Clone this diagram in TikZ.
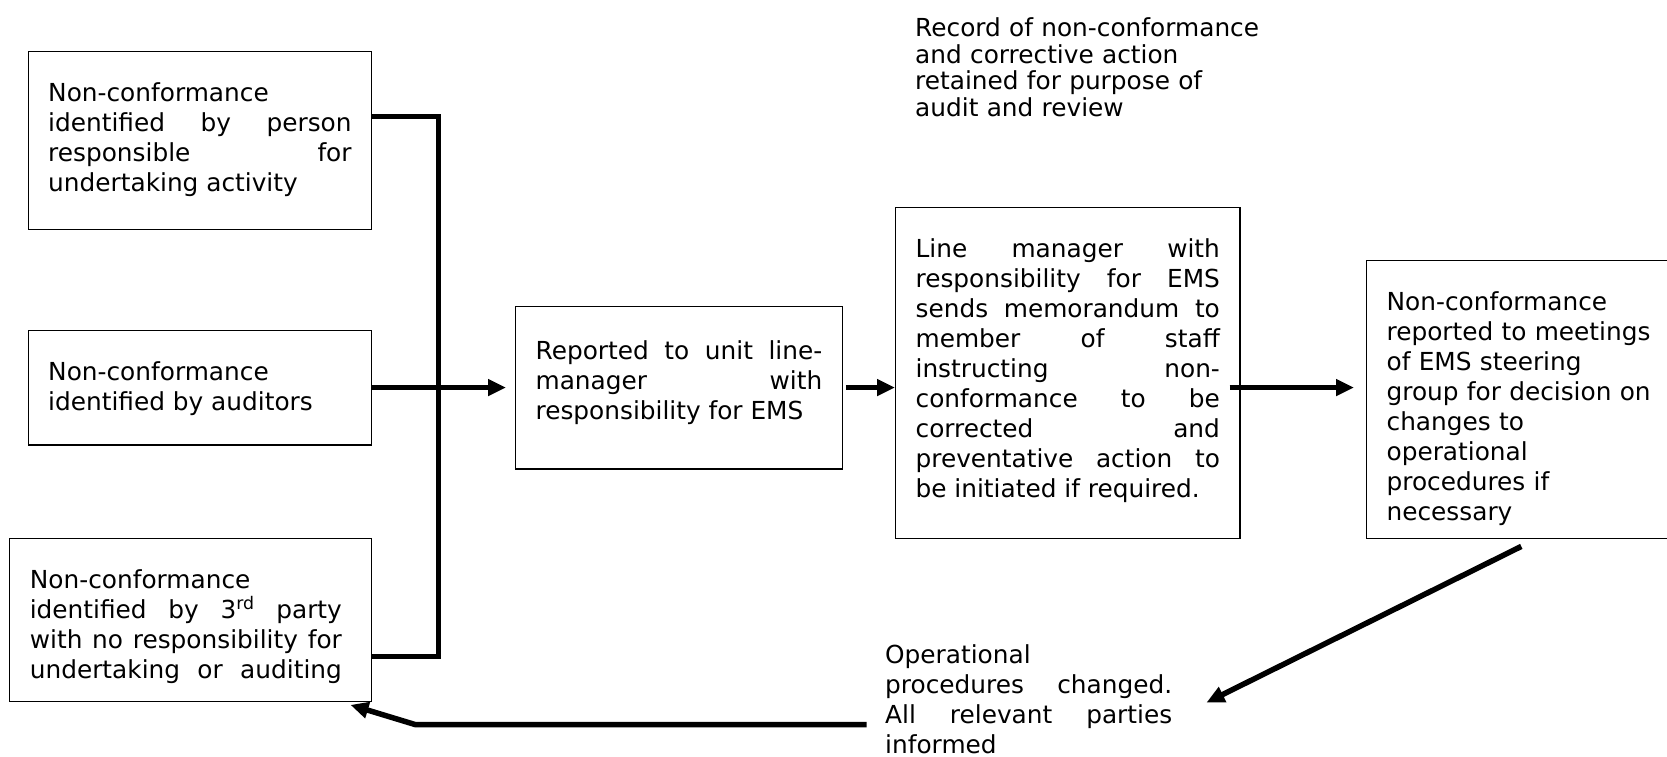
\documentclass[tikz,border=0pt]{standalone}
\usepackage{fontspec}
\setmainfont{DejaVu Sans}
\usetikzlibrary{arrows.meta}
\hyphenpenalty=10000
\newcommand{\boxfont}{\fontsize{24.8}{30}\selectfont}
\newcommand{\notefont}{\fontsize{24.8}{26.4}\selectfont}

\begin{document}
\begin{tikzpicture}[x=1pt, y=-1pt,
    flowbox/.style={draw, line width=1.2pt, anchor=north west, inner xsep=20pt,
      inner ysep=0pt, align=justify, font=\boxfont, text height=50pt},
    note/.style={anchor=base west, inner sep=0pt, font=\notefont},
    flow/.style={line width=5.5pt, -{Triangle[length=18pt,width=16pt]}},
    bus/.style={line width=5.5pt, line join=miter}]
    \useasboundingbox (0,0) rectangle (1667,757);
    \clip (0,0) rectangle (1667,757);

    % --- sources of non-conformance ---
    \node[flowbox, text width=303.4pt, text depth=128.3pt] (b1) at (27.6,50.7)
      {Non-conformance\\ identified by person\linebreak responsible for\linebreak undertaking activity};
    \node[flowbox, text width=303.4pt, text depth=64.8pt] (b2) at (27.6,329.6)
      {Non-conformance\\ identified by auditors};
    \node[flowbox, inner xsep=20.25pt, text width=321.5pt, text depth=112.7pt] (b3) at (9,538)
      {\rightskip=9.5pt\relax Non-conformance\\ identified by 3\textsuperscript{rd} party\linebreak
       with no responsibility for\linebreak undertaking or auditing\parfillskip=0pt\par};

    % --- reporting chain ---
    \node[flowbox, text width=286.7pt, text height=53pt, text depth=109.6pt] (b4) at (515,305.7)
      {Reported to unit line-\linebreak manager with\linebreak responsibility for EMS};
    \node[flowbox, text width=304.3pt, text depth=281pt] (b5) at (895,206.7)
      {Line manager with\linebreak responsibility for EMS\linebreak sends memorandum to\linebreak
       member of staff\linebreak instructing non-\linebreak conformance to be\linebreak
       corrected and\linebreak preventative action to\linebreak be initiated if required.};
    \node[flowbox, align=left, text width=269.4pt, text depth=227.7pt] (b6) at (1366,260)
      {Non-conformance\\ reported to meetings\\ of EMS steering\\ group for decision on\\
       changes to\\ operational\\ procedures if\\ necessary};

    % --- free texts ---
    \node[note, text width=360pt, align=left] (record) at (915,37)
      {Record of non-conformance\\ and corrective action\\ retained for purpose of\\ audit and review};
    \node[note, text width=287pt, align=justify, font=\boxfont] (opchange) at (885,663)
      {Operational\\ procedures changed.\linebreak All relevant parties\linebreak informed};

    % --- connectors ---
    \coordinate (bustop) at (438.3,116.3);
    \coordinate (busbot) at (438.3,656.7);
    \draw[bus] (b1.east |- bustop) -- (bustop) -- (busbot) -- (b3.east |- busbot);
    \draw[flow, shorten >=9pt] (b2.east) -- (b4.west);
    \draw[flow, shorten <=3pt] (b4.east) -- (b5.west |- b4.east);
    \draw[flow, shorten <=-11pt, shorten >=12pt] (b5.east |- b4.east) -- (b6.west |- b4.east);

    \coordinate (opin) at (1206.5,702.5);
    \draw[flow] ([yshift=-7.5pt]b6.south) -- (opin);
    \coordinate (retstart) at (866.7,724.5);
    \coordinate (retbend) at (415,724.5);
    \draw[flow] (retstart) -- (retbend) -- ([shift={(-21.7,3)}]b3.south east);
\end{tikzpicture}
\end{document}
